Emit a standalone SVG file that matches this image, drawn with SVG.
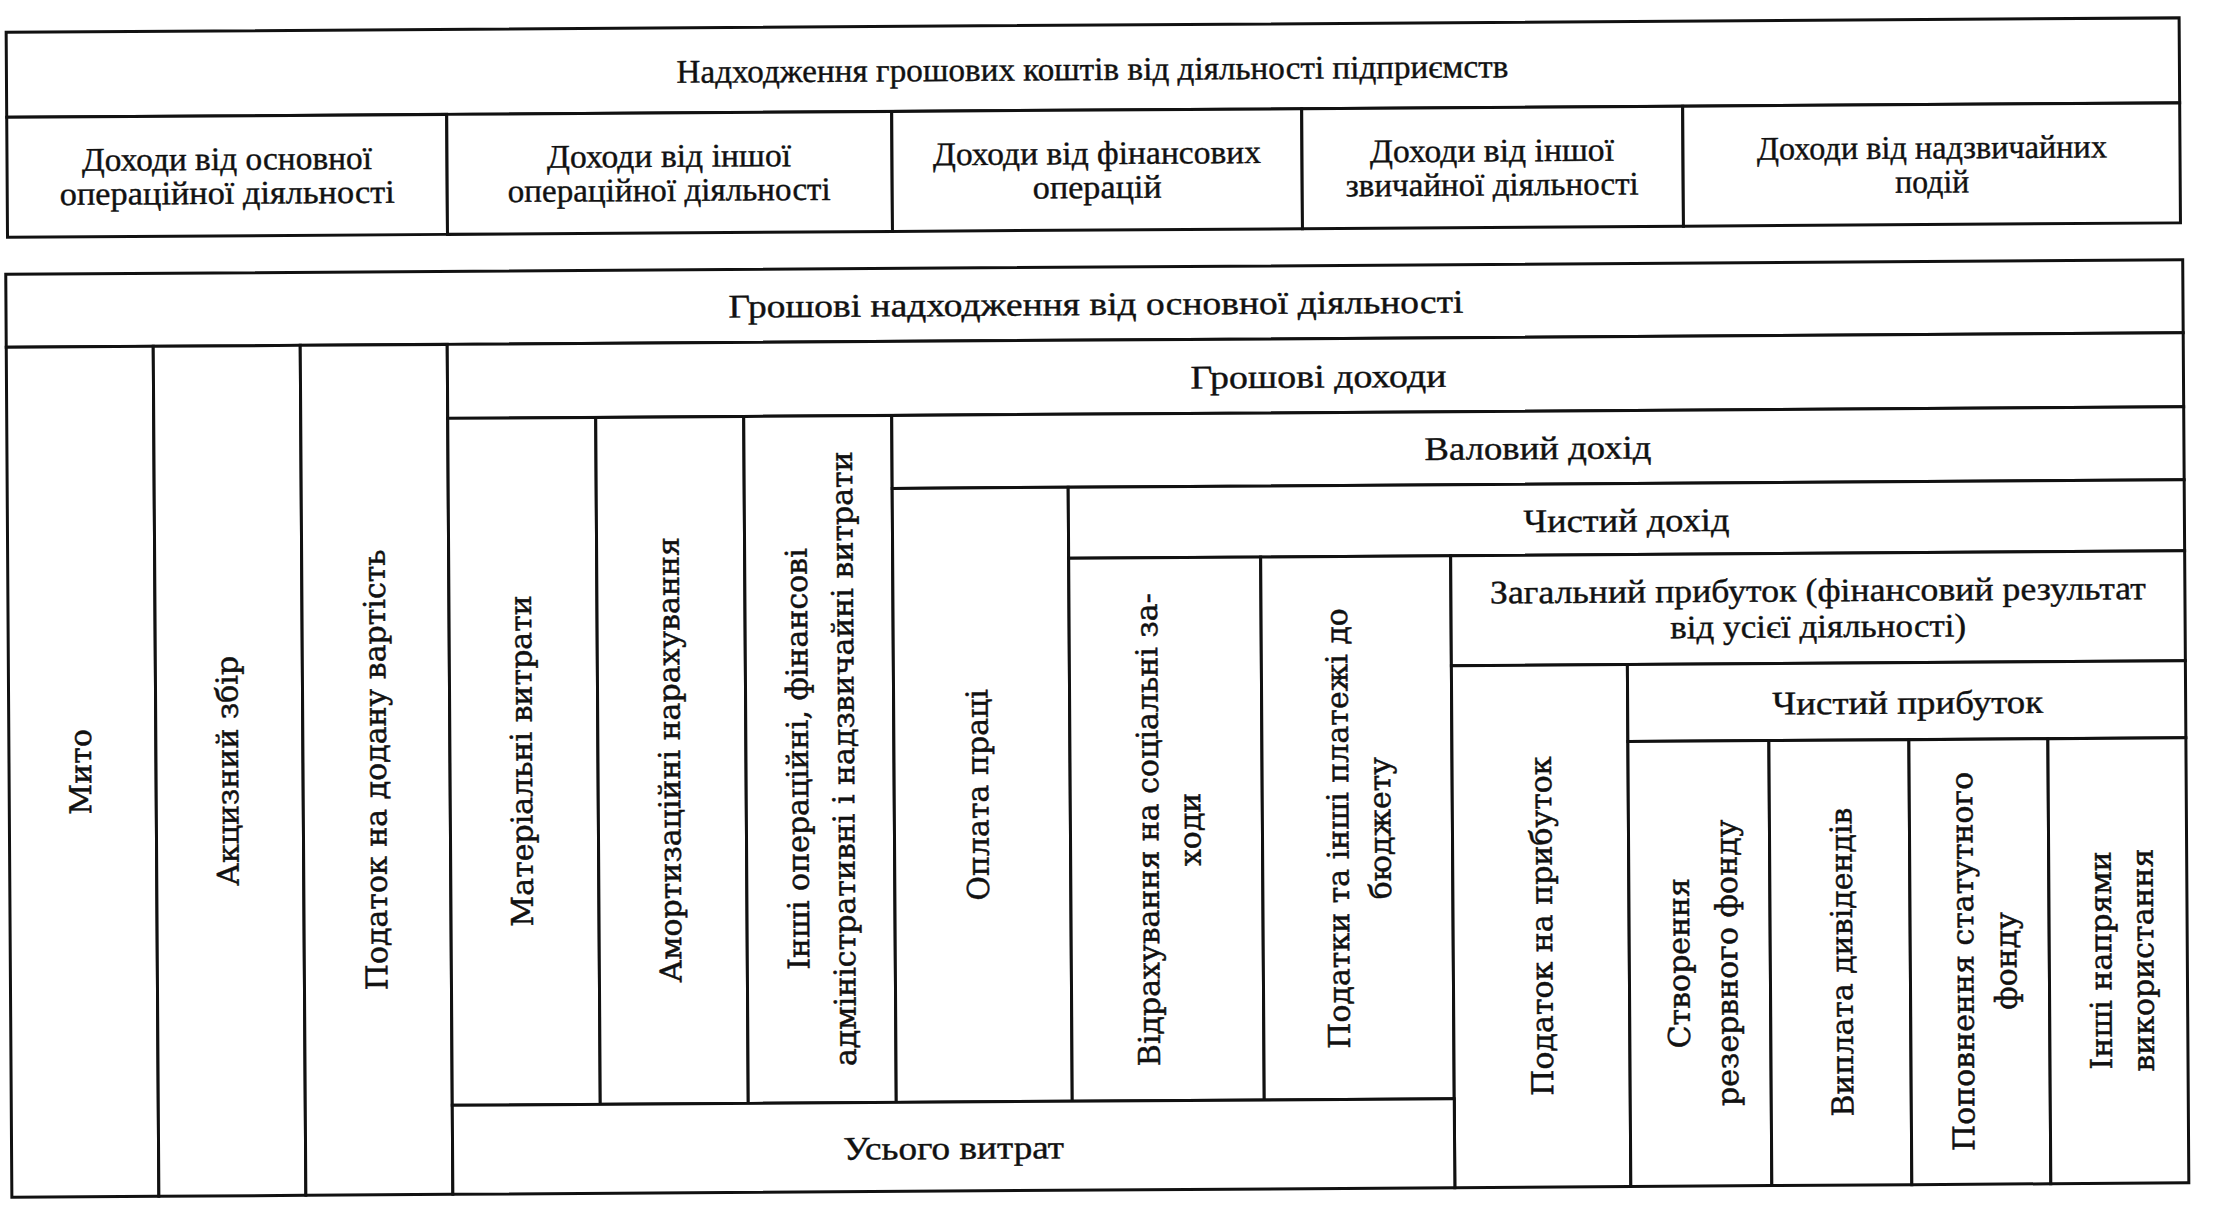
<svg xmlns="http://www.w3.org/2000/svg" width="2214" height="1218" viewBox="0 0 2214 1218">
<style>
.c{fill:#fff;stroke:#111;stroke-width:3}
.h{font-family:"Liberation Serif","Times New Roman",serif;font-size:33px;fill:#111;stroke:#111;stroke-width:0.4;text-anchor:middle}
.v{font-family:"DejaVu Serif",serif;font-size:30px;fill:#111;stroke:#111;stroke-width:0.5;text-anchor:middle}
</style>
<rect width="2214" height="1218" fill="#fff"/>
<g transform="rotate(-0.38 1107 609)">
<g id="top-title"><rect class="c" x="10" y="25" width="2173" height="85"/><text class="h" x="1096" y="80" textLength="832" lengthAdjust="spacingAndGlyphs">Надходження грошових коштів від діяльності підприємств</text></g>
<g id="top-c1"><rect class="c" x="10" y="110" width="440" height="120"/><text class="h" x="230" y="164" textLength="290" lengthAdjust="spacingAndGlyphs">Доходи від основної</text><text class="h" x="230" y="198" textLength="335" lengthAdjust="spacingAndGlyphs">операційної діяльності</text></g>
<g id="top-c2"><rect class="c" x="450" y="110" width="445" height="120"/><text class="h" x="672" y="164" textLength="244" lengthAdjust="spacingAndGlyphs">Доходи від іншої</text><text class="h" x="672" y="198" textLength="323" lengthAdjust="spacingAndGlyphs">операційної діяльності</text></g>
<g id="top-c3"><rect class="c" x="895" y="110" width="410" height="120"/><text class="h" x="1100" y="164" textLength="328" lengthAdjust="spacingAndGlyphs">Доходи від фінансових</text><text class="h" x="1100" y="198" textLength="129" lengthAdjust="spacingAndGlyphs">операцій</text></g>
<g id="top-c4"><rect class="c" x="1305" y="110" width="381" height="120"/><text class="h" x="1495" y="164" textLength="244" lengthAdjust="spacingAndGlyphs">Доходи від іншої</text><text class="h" x="1495" y="198" textLength="293" lengthAdjust="spacingAndGlyphs">звичайної діяльності</text></g>
<g id="top-c5"><rect class="c" x="1686" y="110" width="497" height="120"/><text class="h" x="1935" y="164" textLength="350" lengthAdjust="spacingAndGlyphs">Доходи від надзвичайних</text><text class="h" x="1935" y="198" textLength="74" lengthAdjust="spacingAndGlyphs">подій</text></g>

<g id="b-header"><rect class="c" x="8" y="267" width="2177" height="73"/><text class="h" x="1098" y="315" textLength="735" lengthAdjust="spacingAndGlyphs">Грошові надходження від основної діяльності</text></g>
<g id="b-myto"><rect class="c" x="8" y="340" width="147" height="850"/><text class="v" transform="translate(90 765) rotate(-90)">Мито</text></g>
<g id="b-akcyz"><rect class="c" x="155" y="340" width="147" height="850"/><text class="v" transform="translate(237 765) rotate(-90)">Акцизний збір</text></g>
<g id="b-pdv"><rect class="c" x="302" y="340" width="147" height="850"/><text class="v" transform="translate(385 765) rotate(-90)">Податок на додану вартість</text></g>
<g id="b-dohody"><rect class="c" x="449" y="340" width="1736" height="74"/><text class="h" x="1320" y="389" textLength="256" lengthAdjust="spacingAndGlyphs">Грошові доходи</text></g>
<g id="b-mat"><rect class="c" x="449" y="414" width="148" height="687"/><text class="v" transform="translate(531 757) rotate(-90)">Матеріальні витрати</text></g>
<g id="b-amort"><rect class="c" x="597" y="414" width="148" height="687"/><text class="v" transform="translate(679 757) rotate(-90)">Амортизаційні нарахування</text></g>
<g id="b-inshi-op"><rect class="c" x="745" y="414" width="148" height="687"/><text class="v" transform="translate(807 757) rotate(-90)">Інші операційні, фінансові</text><text class="v" transform="translate(853 757) rotate(-90)">адміністративні і надзвичайні витрати</text></g>
<g id="b-valovyi"><rect class="c" x="893" y="414" width="1292" height="73"/><text class="h" x="1539" y="462" textLength="227" lengthAdjust="spacingAndGlyphs">Валовий дохід</text></g>
<g id="b-oplata"><rect class="c" x="893" y="487" width="176" height="614"/><text class="v" transform="translate(987 794) rotate(-90)">Оплата праці</text></g>
<g id="b-chystyi-dohid"><rect class="c" x="1069" y="487" width="1116" height="71"/><text class="h" x="1627" y="535" textLength="206" lengthAdjust="spacingAndGlyphs">Чистий дохід</text></g>
<g id="b-vidrah"><rect class="c" x="1069" y="558" width="192" height="543"/><text class="v" transform="translate(1157 830) rotate(-90)">Відрахування на соціальні за-</text><text class="v" transform="translate(1199 830) rotate(-90)">ходи</text></g>
<g id="b-podatky"><rect class="c" x="1261" y="558" width="190" height="543"/><text class="v" transform="translate(1347 830) rotate(-90)">Податки та інші платежі до</text><text class="v" transform="translate(1389 830) rotate(-90)">бюджету</text></g>
<g id="b-zagalnyi"><rect class="c" x="1451" y="558" width="734" height="110"/><text class="h" x="1818" y="606" textLength="656" lengthAdjust="spacingAndGlyphs">Загальний прибуток (фінансовий результат</text><text class="h" x="1818" y="642" textLength="296" lengthAdjust="spacingAndGlyphs">від усієї діяльності)</text></g>
<g id="b-pod-prybutok"><rect class="c" x="1451" y="668" width="176" height="522"/><text class="v" transform="translate(1550 929) rotate(-90)">Податок на прибуток</text></g>
<g id="b-chystyi-prybutok"><rect class="c" x="1627" y="668" width="558" height="77"/><text class="h" x="1907" y="719" textLength="271" lengthAdjust="spacingAndGlyphs">Чистий прибуток</text></g>
<g id="b-rezerv"><rect class="c" x="1627" y="745" width="141" height="445"/><text class="v" transform="translate(1687 967) rotate(-90)">Створення</text><text class="v" transform="translate(1735 967) rotate(-90)">резервного фонду</text></g>
<g id="b-dyvidendy"><rect class="c" x="1768" y="745" width="140" height="445"/><text class="v" transform="translate(1850 967) rotate(-90)">Виплата дивідендів</text></g>
<g id="b-statut"><rect class="c" x="1908" y="745" width="139" height="445"/><text class="v" transform="translate(1971 967) rotate(-90)">Поповнення статутного</text><text class="v" transform="translate(2014 967) rotate(-90)">фонду</text></g>
<g id="b-inshi-napr"><rect class="c" x="2047" y="745" width="138" height="445"/><text class="v" transform="translate(2109 967) rotate(-90)">Інші напрями</text><text class="v" transform="translate(2151 967) rotate(-90)">використання</text></g>
<g id="b-usogo"><rect class="c" x="449" y="1101" width="1002" height="89"/><text class="h" x="950" y="1158" textLength="221" lengthAdjust="spacingAndGlyphs">Усього витрат</text></g>
<g id="connectors"></g>
</g>
</svg>
